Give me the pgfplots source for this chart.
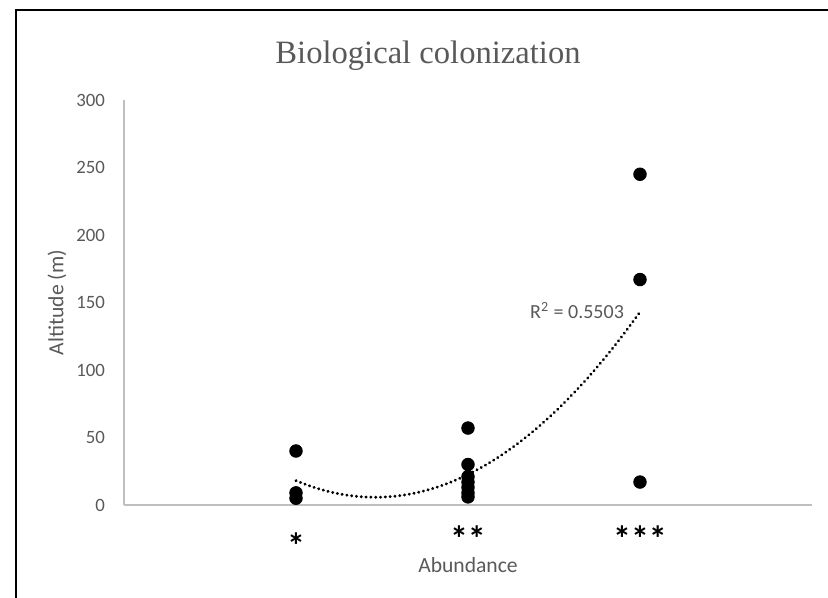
\documentclass[border=0pt]{standalone}
\usepackage{pgfplots}
\pgfplotsset{compat=1.18}
\usepackage{fontspec}
\setmainfont{Carlito}
\newfontfamily\titlefont{Liberation Serif}
\definecolor{txtgray}{HTML}{595959}
\definecolor{axgray}{HTML}{BFBFBF}
\newcommand{\stars}[2]{\raisebox{\dimexpr-0.37em-#1\relax}[0.27em][0pt]{#2}}
\begin{document}
\begin{tikzpicture}
\useasboundingbox (0,0) rectangle (414pt,299pt);
\begin{scope}
\clip (0,0) rectangle (414pt,299pt);
\draw[black, line width=1.3pt] (8pt,-20pt) rectangle (430pt,294pt);
\end{scope}
\node[txtgray, font=\titlefont\fontsize{16.3}{18}\selectfont] at (214pt,271pt) {Biological colonization};
\begin{axis}[
  scale only axis,
  width=344pt, height=202.5pt,
  at={(62pt,46.5pt)}, anchor=south west,
  xmin=0, xmax=4, ymin=0, ymax=300,
  axis x line=bottom, axis y line=left,
  axis line style={-, draw=axgray, line width=0.75pt},
  major tick length=0pt,
  xtick={1,2,3},
  xticklabels={\stars{3.5pt}{*},\stars{0pt}{**},\stars{0pt}{***}},
  xticklabel style={anchor=north, inner sep=0pt, yshift=-11.5pt, font=\bfseries\fontsize{18}{19}\selectfont, text=black},
  ytick={0,50,...,300},
  yticklabel style={font=\fontsize{9.4}{10}\selectfont, text=txtgray, xshift=-6pt},
  /pgf/number format/assume math mode=true,
  xlabel={Abundance},
  ylabel={Altitude (m)},
  xlabel style={at={(rel axis cs:0.5,0)}, anchor=center, yshift=-30pt, font=\fontsize{10.8}{12}\selectfont, text=txtgray},
  ylabel style={at={(axis description cs:-0.0974,0.5)}, anchor=center, rotate=0, font=\fontsize{10.8}{12}\selectfont, text=txtgray},
  clip=false,
]
\addplot[only marks, mark=*, mark size=3.15pt, black] coordinates {
  (1,40) (1,9) (1,5)
  (2,57) (2,30) (2,21) (2,17) (2,13) (2,9) (2,6)
  (3,245) (3,167) (3,17)
};
\addplot[black, line width=1.6pt, line cap=round, dash pattern=on 0.01pt off 2.4pt, smooth] coordinates {
  (1.0,18.0) (1.1,13.25) (1.2,9.66) (1.3,7.22) (1.4,5.94) (1.5,5.83) (1.6,6.86)
  (1.7,9.06) (1.8,12.42) (1.9,16.93) (2.0,22.6) (2.1,29.43) (2.2,37.42) (2.3,46.56)
  (2.4,56.86) (2.5,68.33) (2.6,80.94) (2.7,94.72) (2.8,109.66) (2.9,125.75) (3.0,143.0)
};
\node[txtgray, font=\fontsize{10}{11}\selectfont] at (axis cs:2.634,144) {R\textsuperscript{2} = 0.5503};
\end{axis}
\end{tikzpicture}
\end{document}
